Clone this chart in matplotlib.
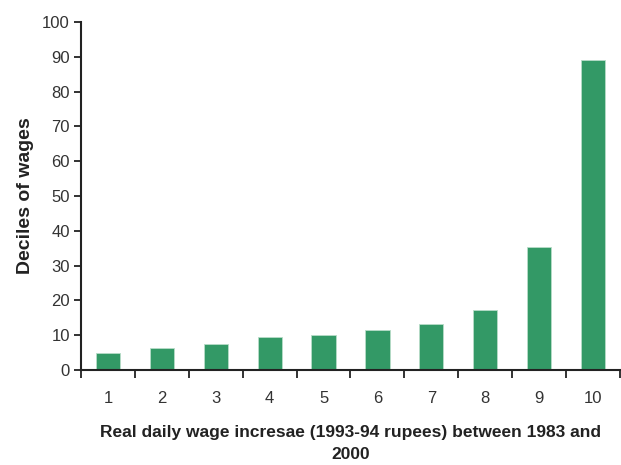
import matplotlib.pyplot as plt
import numpy as np

plt.rcParams['font.family'] = ['Liberation Sans', 'DejaVu Sans']

# deciles and wage increase values
deciles = [1, 2, 3, 4, 5, 6, 7, 8, 9, 10]
valores = [5.0, 6.2, 7.4, 9.6, 10.1, 11.4, 13.1, 17.2, 35.4, 89.1]

fig = plt.figure(figsize=(6.21, 4.65), dpi=100)
ax = fig.add_axes([0.1304, 0.2043, 0.868, 0.7484])

ax.bar(deciles, valores, width=0.45, color='#339966', edgecolor='#b8dcc8', linewidth=0.6)

ax.set_xlim(0.5, 10.5)
ax.set_ylim(0, 100)
ax.set_yticks(np.arange(0, 101, 10))

# ticks between categories, labels centred below bars
ax.set_xticks(np.arange(0.5, 11, 1))
ax.set_xticklabels([])
ax.set_xticks(deciles, minor=True)
ax.set_xticklabels([str(d) for d in deciles], minor=True)
ax.tick_params(axis='x', which='major', direction='out', length=6, width=1.3, color='#222222')
ax.tick_params(axis='x', which='minor', length=0, pad=15, labelsize=12, labelcolor='#333333')
ax.tick_params(axis='y', direction='out', length=5, width=1.3, color='#222222',
               labelsize=12, labelcolor='#333333', pad=3)

for s in ['top', 'right']:
    ax.spines[s].set_visible(False)
for s in ['left', 'bottom']:
    ax.spines[s].set_linewidth(1.5)
    ax.spines[s].set_color('#222222')

ax.set_xlabel('Real daily wage incresae (1993-94 rupees) between 1983 and\n2000',
              fontsize=12.5, fontweight='bold', color='#222222', labelpad=14, linespacing=1.55)
ax.set_ylabel('Deciles of wages', fontsize=14, fontweight='bold', color='#222222', labelpad=6)

plt.savefig('out.png', dpi=100)
